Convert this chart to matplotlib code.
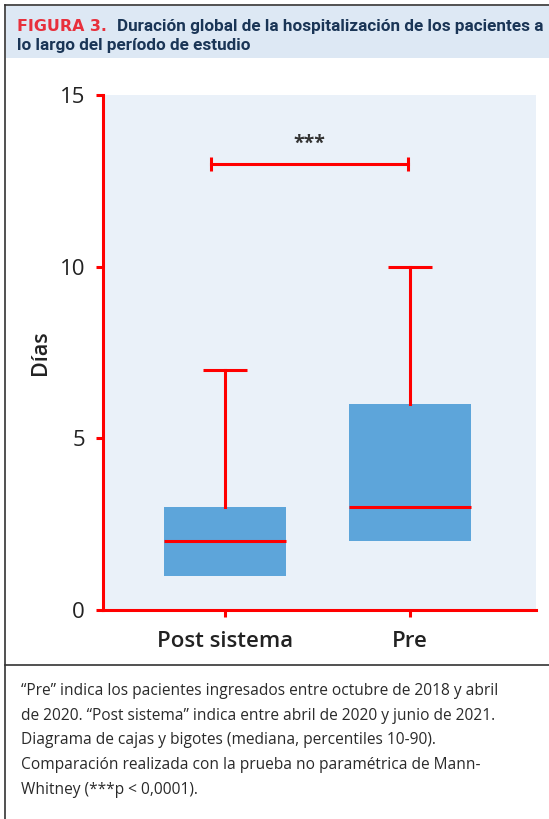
import matplotlib
matplotlib.use("Agg")
import matplotlib.pyplot as plt
from matplotlib.patches import Rectangle
from matplotlib.lines import Line2D

categories = ["Post sistema", "Pre"]
p10 = [1, 2]
q1 = [1, 2]
median = [2, 3]
q3 = [3, 6]
p90 = [7, 10]
y_ticks = [0, 5, 10, 15]
sig_label = "***"
sig_level = 13

title_red = "FIGURA 3."
title_line1 = "Duración global de la hospitalización de los pacientes a"
title_line2 = "lo largo del período de estudio"
y_label = "Días"
caption = ("\u201cPre\u201d indica los pacientes ingresados entre octubre de 2018 y abril\n"
           "de 2020. \u201cPost sistema\u201d indica entre abril de 2020 y junio de 2021.\n"
           "Diagrama de cajas y bigotes (mediana, percentiles 10-90).\n"
           "Comparación realizada con la prueba no paramétrica de Mann-\n"
           "Whitney (***p < 0,0001).")

RED = "#FF0000"
BOX = "#5DA5DA"
BG = "#EAF1F9"
HEAD = "#DDE8F4"
TXT = "#222222"
NAVY = "#1A3556"

W, H = 549, 819
fig = plt.figure(figsize=(W / 100, H / 100), dpi=100)
fig.patch.set_facecolor("white")

def fx(px):
    return px / W

def fy(py):
    return 1 - py / H

# header band
fig.add_artist(Rectangle((fx(6), fy(58)), 1 - fx(6), fy(6) - fy(58), transform=fig.transFigure,
                         facecolor=HEAD, edgecolor="none", zorder=0))
# borders
fig.add_artist(Line2D([fx(5), fx(5)], [0, fy(5)], transform=fig.transFigure, color="#333333", lw=1.2))
fig.add_artist(Line2D([fx(5), 1], [fy(5), fy(5)], transform=fig.transFigure, color="#333333", lw=1.2))
fig.add_artist(Line2D([fx(5), 1], [fy(665), fy(665)], transform=fig.transFigure, color="#333333", lw=1.2))

fam = ["Open Sans", "DejaVu Sans"]
narrow = ["Liberation Sans Narrow", "Roboto", "DejaVu Sans"]
fig.text(fx(17), fy(31), title_red, color="#E8303C", fontsize=11.4, fontweight="bold",
         family=["DejaVu Sans"], va="baseline")
fig.text(fx(117), fy(31), title_line1, color=NAVY, fontsize=12.3, fontweight="bold",
         family=narrow, va="baseline")
fig.text(fx(17), fy(50), title_line2, color=NAVY, fontsize=12.3, fontweight="bold",
         family=narrow, va="baseline")

fig.text(fx(21), fy(683), caption, color="#2A2A2A", fontsize=11.2, family=fam,
         va="top", linespacing=1.72)

ax = fig.add_axes([fx(103), fy(610), fx(536) - fx(103), fy(95) - fy(610)])
ax.set_facecolor(BG)
pos = list(range(len(categories)))
bw = 0.66
cw = 0.24
for i in pos:
    ax.add_patch(Rectangle((i - bw / 2, q1[i]), bw, q3[i] - q1[i], facecolor=BOX,
                           edgecolor="none", zorder=2))
    ax.plot([i - bw / 2, i + bw / 2], [median[i], median[i]], color=RED, lw=2.2, zorder=3,
            solid_capstyle="butt")
    ax.plot([i, i], [q3[i], p90[i]], color=RED, lw=2.2, zorder=3)
    ax.plot([i - cw / 2, i + cw / 2], [p90[i], p90[i]], color=RED, lw=2.2, zorder=3,
            solid_capstyle="butt")
    if p10[i] < q1[i]:
        ax.plot([i, i], [p10[i], q1[i]], color=RED, lw=2.2, zorder=3)
        ax.plot([i - cw / 2, i + cw / 2], [p10[i], p10[i]], color=RED, lw=2.2, zorder=3)

# significance bracket
bx0, bx1 = -0.076, 0.99
ax.plot([bx0, bx1], [sig_level, sig_level], color=RED, lw=2.2, zorder=3)
for bx in (bx0, bx1):
    ax.plot([bx, bx], [sig_level - 0.2, sig_level + 0.2], color=RED, lw=2.2, zorder=3,
            solid_capstyle="butt")
ax.text((bx0 + bx1) / 2, sig_level + 0.3, sig_label, ha="center", va="bottom",
        fontsize=14, fontweight="bold", color="#333333", family=fam)

ax.set_xlim(-0.66, 1.68)
ax.set_ylim(0, 15)
ax.set_yticks(y_ticks)
ax.set_yticklabels([str(t) for t in y_ticks], fontsize=16, color=TXT, family=fam,
                   fontweight="medium")
ax.set_xticks(pos)
ax.set_xticklabels(categories, fontsize=16, color=TXT, family=fam, fontweight="semibold")
ax.set_ylabel(y_label, fontsize=15.5, color=TXT, family=fam, fontweight="semibold", labelpad=6)
for s in ("top", "right"):
    ax.spines[s].set_visible(False)
for s in ("left", "bottom"):
    ax.spines[s].set_color(RED)
    ax.spines[s].set_linewidth(2.2)
ax.tick_params(axis="both", colors=RED, width=2.2, length=5)
ax.tick_params(axis="y", pad=8, labelcolor=TXT)
ax.tick_params(axis="x", pad=10, labelcolor=TXT)

fig.savefig("out.png", dpi=100)
